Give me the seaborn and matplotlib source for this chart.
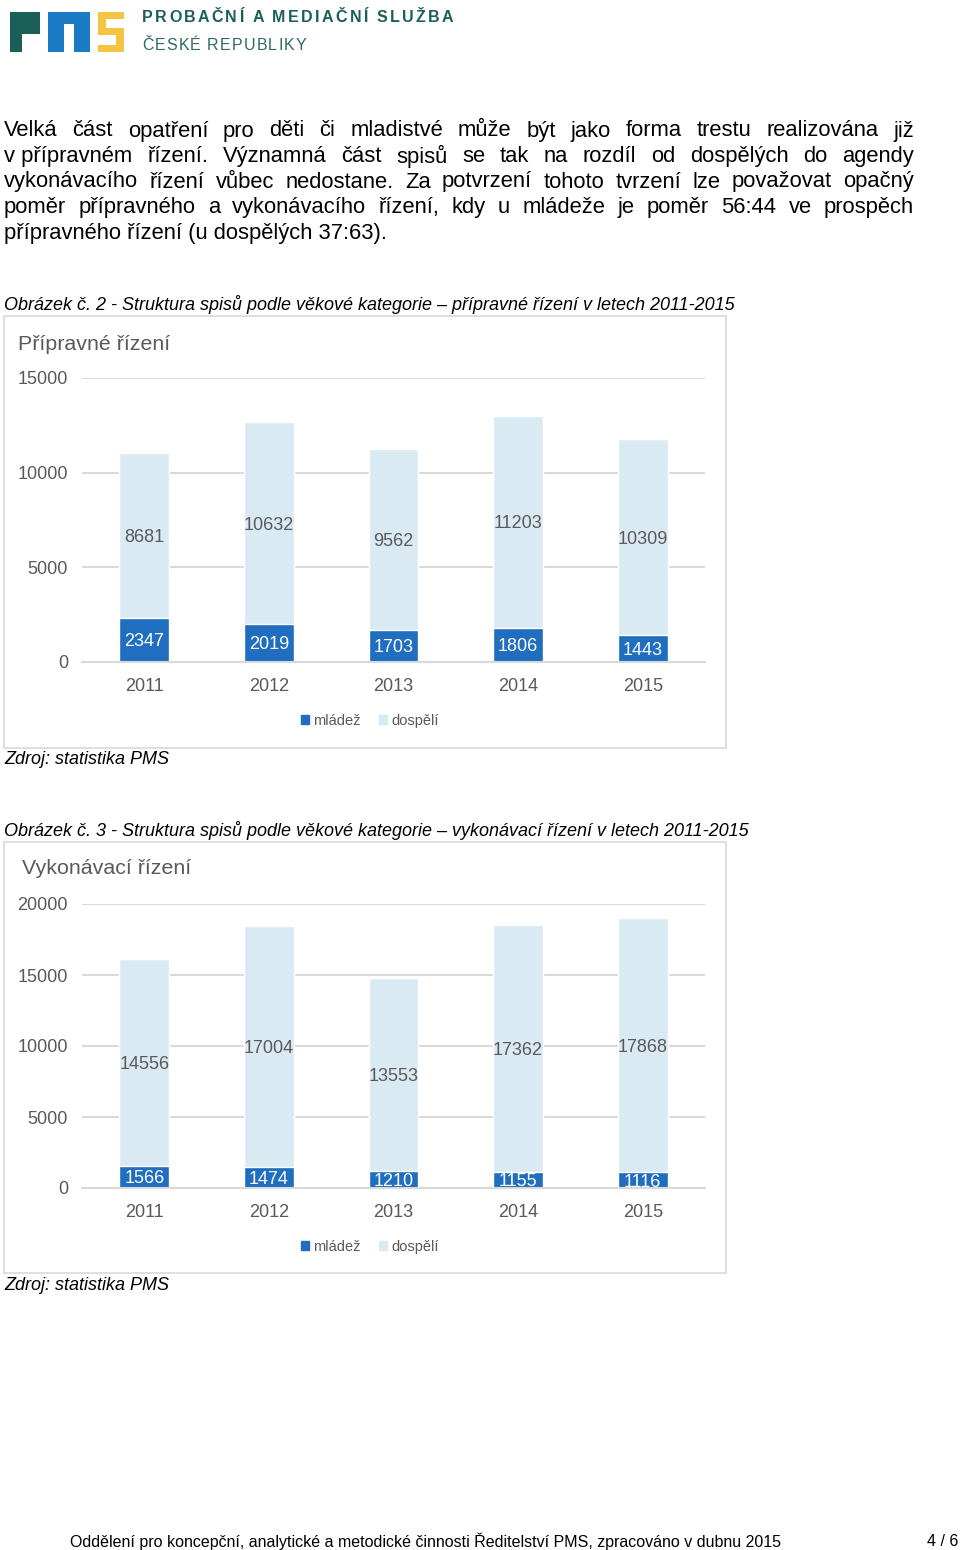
import matplotlib
matplotlib.use("Agg")
import matplotlib.pyplot as plt
import matplotlib.patches as mpatches
import seaborn as sns
import pandas as pd

# ---------------- data ----------------
years = ["2011", "2012", "2013", "2014", "2015"]
prip_mladez = [2347, 2019, 1703, 1806, 1443]
prip_dospeli = [8681, 10632, 9562, 11203, 10309]
vyk_mladez = [1566, 1474, 1210, 1155, 1116]
vyk_dospeli = [14556, 17004, 13553, 17362, 17868]
prip_ticks = [0, 5000, 10000, 15000]
vyk_ticks = [0, 5000, 10000, 15000, 20000]
series_names = ["mládež", "dospělí"]

paragraph = [
    "Velká část opatření pro děti či mladistvé může být jako forma trestu realizována již",
    "v\u00a0přípravném řízení. Významná část spisů se tak na rozdíl od dospělých do agendy",
    "vykonávacího řízení vůbec nedostane. Za potvrzení tohoto tvrzení lze považovat opačný",
    "poměr přípravného a vykonávacího řízení, kdy u mládeže je poměr 56:44 ve prospěch",
    "přípravného řízení (u dospělých 37:63).",
]
caption1 = "Obrázek č. 2 - Struktura spisů podle věkové kategorie – přípravné řízení v letech 2011-2015"
caption2 = "Obrázek č. 3 - Struktura spisů podle věkové kategorie – vykonávací řízení v letech 2011-2015"
source = "Zdroj: statistika PMS"
footer = "Oddělení pro koncepční, analytické a metodické činnosti Ředitelství PMS, zpracováno v dubnu 2015"
page = "4 / 6"

# ---------------- style ----------------
sns.set_theme(style="white")
plt.rcParams["font.family"] = ["Liberation Sans", "DejaVu Sans"]

W, H = 960, 1550
fig = plt.figure(figsize=(W / 100, H / 100), dpi=100)
fig.patch.set_facecolor("white")
renderer = fig.canvas.get_renderer()

DARK = "#1F6EBF"
LIGHT = "#DAEAF3"
GRID = "#D9D9D9"
GRAY = "#595959"


def fx(x):
    return x / W


def fy(y):
    return 1 - y / H


def justify(words, x0, x1, y, **kw):
    texts = [fig.text(0, fy(y), w, va="center", ha="left", **kw) for w in words]
    widths = [t.get_window_extent(renderer).width for t in texts]
    gap = (x1 - x0 - sum(widths)) / (len(words) - 1)
    x = x0
    for t, w in zip(texts, widths):
        t.set_x(fx(x))
        x += w + gap


def tracked(s, x0, y, track, **kw):
    x = x0
    for ch in s:
        t = fig.text(fx(x), fy(y), ch, va="center", ha="left", **kw)
        w = t.get_window_extent(renderer).width
        if ch == " ":
            w = kw.get("fontsize", 10) * 0.35
        x += w + track


# ---------------- logo ----------------
teal = "#1B5F58"
blue = "#1A7BC4"
yellow = "#F6C443"


def frect(x0, y0, x1, y1, color, z=1):
    fig.patches.append(mpatches.Rectangle((fx(x0), fy(y1)), fx(x1 - x0), (y1 - y0) / H,
                                          transform=fig.transFigure, color=color, lw=0, zorder=z))


# P
frect(10, 12, 22, 52, teal)
frect(10, 12, 40, 34, teal)
# M
frect(48, 12, 90, 52, blue)
frect(64, 24, 74, 52, "white", z=2)
# S
frect(98, 12, 124, 19, yellow)
frect(98, 12, 106, 34, yellow)
frect(98, 28, 124, 35, yellow)
frect(116, 28, 124, 52, yellow)
frect(98, 45, 124, 52, yellow)

tracked("PROBAČNÍ A MEDIAČNÍ SLUŽBA", 142, 18, 2.3, fontsize=11.5, fontweight="bold", color=teal)
tracked("ČESKÉ REPUBLIKY", 142, 46, 1.2, fontsize=11.5, color="#2F6A63")

# ---------------- paragraph ----------------
for i, line in enumerate(paragraph):
    y = 131 + i * 25.5
    if i < len(paragraph) - 1:
        justify(line.split(" "), 4, 914, y, fontsize=15.8, color="black")
    else:
        fig.text(fx(4), fy(y), line, va="center", ha="left", fontsize=15.8, color="black")

# ---------------- charts ----------------
def chart(frame, ax_box, title, title_pos, mladez, dospeli, ticks, legend_y, cap, cap_y, src_y):
    x0, y0, x1, y1 = frame
    fig.patches.append(mpatches.Rectangle((fx(x0), fy(y1)), fx(x1 - x0), (y1 - y0) / H,
                                          transform=fig.transFigure, facecolor="white",
                                          edgecolor=GRID, lw=1.2, zorder=-5))
    fig.text(fx(4), fy(cap_y), cap, va="center", ha="left", fontsize=13, style="italic", color="black")
    fig.text(fx(4), fy(src_y), source, va="center", ha="left", fontsize=13, style="italic", color="black")
    fig.text(fx(title_pos[0]), fy(title_pos[1]), title, va="center", ha="left", fontsize=15.4, color=GRAY)

    l, b, r, t = ax_box
    ax = fig.add_axes([fx(l), fy(b), fx(r - l), (b - t) / H])
    ax.set_zorder(2)
    ax.set_facecolor("none")
    totals = [m + d for m, d in zip(mladez, dospeli)]
    df = pd.DataFrame({"rok": years, "celkem": totals, "mladez": mladez, "dospeli": dospeli})
    sns.barplot(data=df, x="rok", y="celkem", color=LIGHT, saturation=1, width=0.4,
                errorbar=None, ax=ax)
    sns.barplot(data=df, x="rok", y="mladez", color=DARK, saturation=1, width=0.4,
                errorbar=None, ax=ax)
    for i, (m, d) in enumerate(zip(mladez, dospeli)):
        ax.text(i, m / 2, str(m), ha="center", va="center_baseline", color="white", fontsize=13)
        ax.text(i, m + d / 2, str(d), ha="center", va="center_baseline", color=GRAY, fontsize=13)
    ax.set_xlim(-0.5, 4.5)
    ax.set_ylim(ticks[0], ticks[-1])
    ax.set_yticks(ticks)
    ax.set_yticklabels([str(v) for v in ticks])
    ax.yaxis.grid(True, color=GRID, lw=1.5)
    ax.set_axisbelow(True)
    for s in ["top", "right", "left"]:
        ax.spines[s].set_visible(False)
    ax.spines["bottom"].set_color(GRID)
    ax.spines["bottom"].set_linewidth(1.5)
    ax.tick_params(axis="both", length=0, labelsize=13, labelcolor=GRAY)
    ax.tick_params(axis="y", pad=10)
    ax.tick_params(axis="x", pad=11.5)
    ax.set_xlabel("")
    ax.set_ylabel("")
    handles = [mpatches.Patch(color=DARK, label=series_names[0]),
               mpatches.Patch(color=LIGHT, label=series_names[1])]
    leg = fig.legend(handles=handles, loc="center", bbox_to_anchor=(fx(370), fy(legend_y)), ncol=2,
                     frameon=False, fontsize=10.5, handlelength=0.55, handleheight=0.55,
                     handletextpad=0.3, columnspacing=1.3, labelcolor=GRAY)
    leg.set_zorder(3)
    return ax


chart((4, 316, 726, 748), (82, 662, 705, 378), "Přípravné řízení", (18, 344),
      prip_mladez, prip_dospeli, prip_ticks, 721, caption1, 305, 759)
chart((4, 842, 726, 1273), (82, 1188, 705, 904), "Vykonávací řízení", (22, 868),
      vyk_mladez, vyk_dospeli, vyk_ticks, 1247, caption2, 831, 1285)

# ---------------- footer ----------------
fig.text(fx(70), fy(1541), footer, va="center", ha="left", fontsize=11.5, color="black")
fig.text(fx(958), fy(1541), page, va="center", ha="right", fontsize=11.5, color="black")

fig.savefig("out.png", dpi=100)
